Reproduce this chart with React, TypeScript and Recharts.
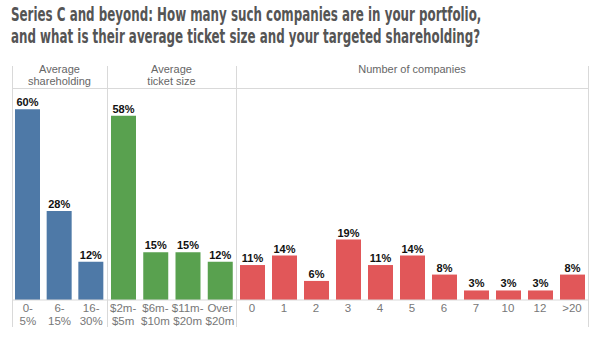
import React from "react";
import { BarChart, Bar, XAxis, YAxis, LabelList } from "recharts";

const shareCategories = ["0-\n5%", "6-\n15%", "16-\n30%"];
const shareValues = [60, 28, 12];

const ticketCategories = ["$2m-\n$5m", "$6m-\n$10m", "$11m-\n$20m", "Over\n$20m"];
const ticketValues = [58, 15, 15, 12];

const countCategories = ["0", "1", "2", "3", "4", "5", "6", "7", "10", "12", ">20"];
const countValues = [11, 14, 6, 19, 11, 14, 8, 3, 3, 3, 8];

const titleLines = [
  "Series C and beyond: How many such companies are in your portfolio,",
  "and what is their average ticket size and your targeted shareholding?",
];

const FONT = "'Liberation Sans', Arial, sans-serif";
const TITLE_FONT = "'Liberation Sans Narrow', 'DejaVu Sans Condensed', sans-serif";
const GRID = "#d9d9d9";
const Y_MAX = 66.7;

const toRows = (cats: string[], vals: number[]) =>
  cats.map((name, i) => ({ name, value: vals[i] }));

const MultiLineTick = (props: any) => {
  const { x, y, payload } = props;
  const lines = String(payload.value).split("\n");
  return (
    <text x={x} y={y} textAnchor="middle" fill="#777" fontSize={11.5} fontFamily={FONT}>
      {lines.map((l, i) => (
        <tspan key={i} x={x} dy={i === 0 ? 12 : 13}>
          {l}
        </tspan>
      ))}
    </text>
  );
};

function Panel({
  left,
  width,
  data,
  color,
}: {
  left: number;
  width: number;
  data: { name: string; value: number }[];
  color: string;
}) {
  return (
    <div style={{ position: "absolute", left, top: 88 }}>
      <BarChart width={width} height={242} data={data} margin={{ top: 0, right: 0, bottom: 0, left: 0 }}>
        <XAxis
          dataKey="name"
          interval={0}
          tickLine={false}
          tickSize={0}
          tickMargin={0}
          height={30}
          axisLine={{ stroke: GRID }}
          tick={<MultiLineTick />}
        />
        <YAxis hide domain={[0, Y_MAX]} />
        <Bar dataKey="value" fill={color} barSize={25} isAnimationActive={false}>
          <LabelList
            dataKey="value"
            position="top"
            offset={3}
            formatter={(v: any) => `${v}%`}
            style={{ fill: "#111", fontWeight: "bold", fontSize: 11, fontFamily: FONT }}
          />
        </Bar>
      </BarChart>
    </div>
  );
}

const vLine = (x: number) => (
  <div
    key={x}
    style={{ position: "absolute", left: x, top: 66, width: 1, height: 261, background: GRID }}
  />
);

const headerStyle: React.CSSProperties = {
  position: "absolute",
  top: 64,
  textAlign: "center",
  fontSize: 11,
  lineHeight: "11.5px",
  color: "#666",
  fontFamily: FONT,
};

const titleStyle = (top: number): React.CSSProperties => ({
  position: "absolute",
  left: 11,
  top,
  fontFamily: TITLE_FONT,
  fontWeight: "bold",
  fontSize: 20,
  lineHeight: "22px",
  color: "#555",
  whiteSpace: "nowrap",
  transform: "scaleX(0.66)",
  transformOrigin: "0 0",
});

export default function App() {
  return (
    <div
      style={{
        position: "absolute",
        left: 0,
        top: 0,
        width: 600,
        height: 343,
        background: "#fff",
        fontFamily: FONT,
        overflow: "hidden",
      }}
    >
      <div style={titleStyle(3)}>{titleLines[0]}</div>
      <div style={titleStyle(25)}>{titleLines[1]}</div>

      <div style={{ position: "absolute", left: 12, top: 88, width: 576, height: 1, background: GRID }} />
      {[12, 107, 236, 588].map(vLine)}

      <div style={{ ...headerStyle, left: 12, width: 95 }}>
        Average
        <br />
        shareholding
      </div>
      <div style={{ ...headerStyle, left: 107, width: 129 }}>
        Average
        <br />
        ticket size
      </div>
      <div style={{ ...headerStyle, left: 236, width: 352 }}>Number of companies</div>

      <Panel left={12} width={95} data={toRows(shareCategories, shareValues)} color="#4E79A7" />
      <Panel left={107} width={129} data={toRows(ticketCategories, ticketValues)} color="#59A14F" />
      <Panel left={236} width={352} data={toRows(countCategories, countValues)} color="#E15759" />
    </div>
  );
}
